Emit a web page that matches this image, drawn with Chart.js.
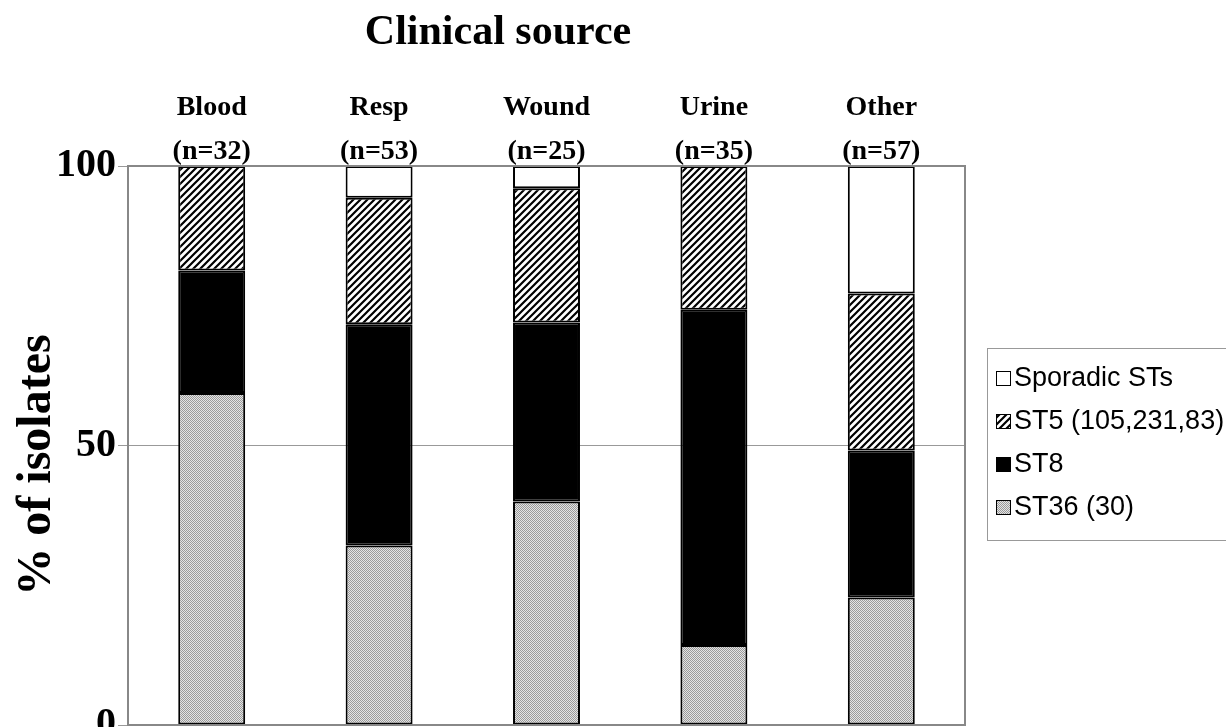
<!DOCTYPE html>
<html>
<head>
<meta charset="utf-8">
<script src="https://cdn.jsdelivr.net/npm/chart.js@4.4.1/dist/chart.umd.min.js"></script>
<style>
html,body{margin:0;padding:0;background:#fff;}
#wrap{position:relative;width:1226px;height:727px;}
</style>
</head>
<body>
<div id="wrap"><canvas id="c" width="1226" height="727"></canvas></div>
<script>
const chartTitle = 'Clinical source';
const yTitle = '% of isolates';
const categories = [['Blood','(n=32)'],['Resp','(n=53)'],['Wound','(n=25)'],['Urine','(n=35)'],['Other','(n=57)']];
const seriesNames = ['ST36 (30)','ST8','ST5 (105,231,83)','Sporadic STs'];
const st36 = [59.4, 32.1, 40.0, 14.3, 22.8];
const st8 = [21.9, 39.6, 32.0, 60.0, 26.3];
const st5 = [18.7, 22.6, 24.0, 25.7, 28.1];
const sporadic = [0, 5.7, 4.0, 0, 22.8];
const yTicks = [0, 50, 100];

function hatchPattern(){
  const c = document.createElement('canvas'); c.width = 7; c.height = 7;
  const g = c.getContext('2d');
  g.fillStyle = '#fff'; g.fillRect(0,0,7,7);
  g.strokeStyle = '#000'; g.lineWidth = 2.2;
  g.beginPath();
  g.moveTo(-1,8); g.lineTo(8,-1);
  g.moveTo(-4.5,4.5); g.lineTo(4.5,-4.5);
  g.moveTo(2.5,11.5); g.lineTo(11.5,2.5);
  g.stroke();
  return g.createPattern(c,'repeat');
}
function dotPattern(){
  const c = document.createElement('canvas'); c.width = 2; c.height = 2;
  const g = c.getContext('2d');
  g.fillStyle = '#e4e4e4'; g.fillRect(0,0,2,2);
  g.fillStyle = '#9a9a9a'; g.fillRect(0,0,1,1); g.fillRect(1,1,1,1);
  return g.createPattern(c,'repeat');
}
const fills = [dotPattern(), '#000', hatchPattern(), '#fff'];
const seriesData = [st36, st8, st5, sporadic];

const serif = '"Liberation Serif", "Times New Roman", serif';

const boxPlugin = {
  id: 'box',
  afterDraw(chart){
    const {ctx, chartArea:a} = chart;
    ctx.save();
    ctx.strokeStyle = '#888'; ctx.lineWidth = 2;
    ctx.strokeRect(a.left, a.top, a.right - a.left, a.bottom - a.top);
    // title
    ctx.fillStyle = '#000';
    ctx.font = 'bold 42px ' + serif;
    ctx.textAlign = 'center'; ctx.textBaseline = 'alphabetic';
    ctx.fillText(chartTitle, 498, 44);
    // y title
    ctx.save();
    ctx.translate(50, 465);
    ctx.rotate(-Math.PI/2);
    ctx.font = 'bold 48px ' + serif;
    ctx.fillText(yTitle, 0, 0);
    ctx.restore();
    // legend
    const lx = 987, ly = 348, lw = 260, lh = 192;
    ctx.lineWidth = 1; ctx.strokeStyle = '#999';
    ctx.strokeRect(lx + 0.5, ly + 0.5, lw, lh);
    ctx.font = '27px "Liberation Sans", Arial, sans-serif';
    ctx.textAlign = 'left';
    ctx.textBaseline = 'middle';
    const order = [3,2,1,0];
    order.forEach((di, i) => {
      const ds = chart.data.datasets[di];
      const cy = ly + 30 + i * 43;
      ctx.fillStyle = ds.backgroundColor;
      ctx.fillRect(996, cy - 7, 15, 15);
      ctx.strokeStyle = '#000'; ctx.lineWidth = 1;
      ctx.strokeRect(996.5, cy - 6.5, 14, 14);
      ctx.fillStyle = '#000';
      ctx.fillText(ds.label, 1014, cy + 1);
    });
    ctx.restore();
  }
};

new Chart(document.getElementById('c'), {
  type: 'bar',
  data: {
    labels: categories,
    datasets: seriesNames.map((n, i) => ({
      label: n,
      data: seriesData[i],
      backgroundColor: fills[i],
      borderColor: '#000',
      borderWidth: 2,
      borderSkipped: false,
      barPercentage: 0.8,
      categoryPercentage: 0.5
    }))
  },
  options: {
    responsive: false,
    animation: false,
    layout: { padding: { left: 0, right: 261, top: 0, bottom: 2 } },
    plugins: {
      legend: { display: false },
      tooltip: { enabled: false },
      title: { display: false }
    },
    scales: {
      x: {
        position: 'top',
        stacked: true,
        grid: { display: false, drawTicks: false },
        border: { display: false },
        ticks: {
          color: '#000',
          font: { family: serif, size: 28, weight: 'bold', lineHeight: 1.58 },
          padding: -8,
          maxRotation: 0
        },
        afterFit(s){ s.height = 166; }
      },
      y: {
        stacked: true,
        min: 0, max: 100,
        afterBuildTicks(s){ s.ticks = yTicks.map(v => ({value: v})); },
        grid: { color: '#999', lineWidth: 1, tickLength: 10, drawOnChartArea: true },
        border: { display: false },
        ticks: {
          color: '#000',
          font: { family: serif, size: 40, weight: 'bold' },
          padding: 2
        },
        afterFit(s){ s.width = 128; s.paddingTop = 0; s.paddingBottom = 0; }
      }
    }
  },
  plugins: [boxPlugin]
});
</script>
</body>
</html>
